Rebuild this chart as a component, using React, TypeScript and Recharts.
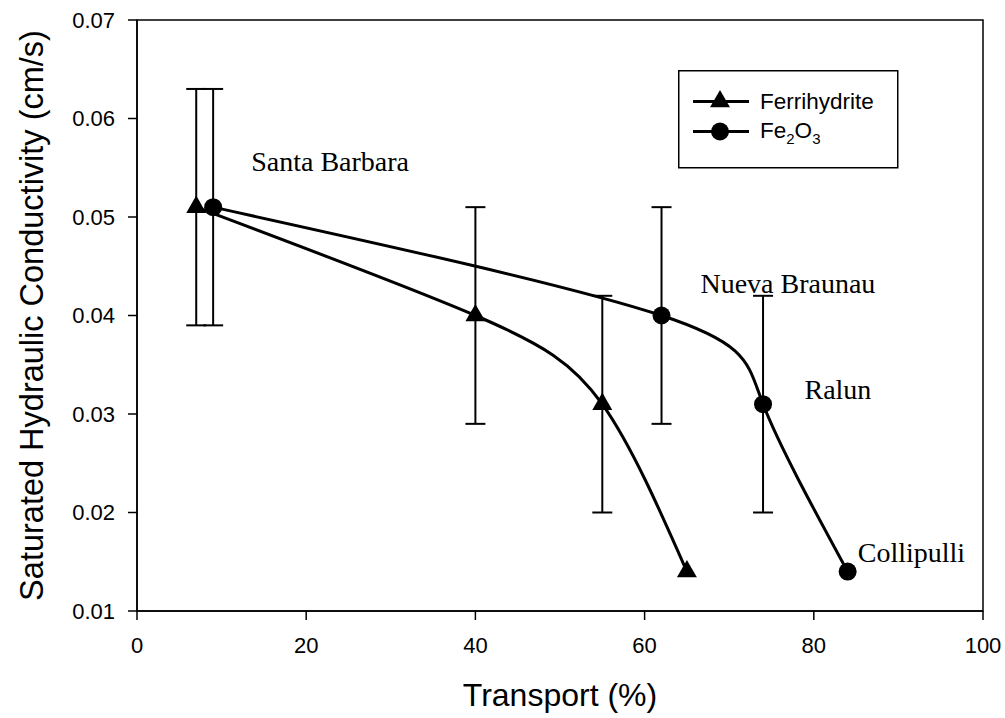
import React from 'react';
import {
  ComposedChart,
  Line,
  XAxis,
  YAxis,
  ErrorBar,
  ReferenceDot,
  ReferenceArea,
  Legend,
  Label,
  Symbols,
} from 'recharts';

// Ferrihydrite series
const transportFerrihydrite = [7, 40, 55, 65];
const conductivityFerrihydrite = [0.051, 0.04, 0.031, 0.014];
const errorFerrihydrite = [0.012, 0.011, 0.011, null];

// Fe2O3 series
const transportFe2O3 = [9, 62, 74, 84];
const conductivityFe2O3 = [0.051, 0.04, 0.031, 0.014];
const errorFe2O3 = [0.012, 0.011, 0.011, null];

// Axis ticks
const xTicks = [0, 20, 40, 60, 80, 100];
const yTicks = [0.01, 0.02, 0.03, 0.04, 0.05, 0.06, 0.07];

// Site annotations (left edge / vertical centre in data units)
const siteNames = ['Santa Barbara', 'Nueva Braunau', 'Ralun', 'Collipulli'];
const siteLabelX = [13.5, 66.6, 78.9, 85.2];
const siteLabelY = [0.0557, 0.0433, 0.0325, 0.016];

const SANS = 'Arial, "Liberation Sans", sans-serif';
const SERIF = '"Times New Roman", "Liberation Serif", serif';

const ferrihydriteData = transportFerrihydrite.map((x, i) => ({
  x,
  k: conductivityFerrihydrite[i],
  err: errorFerrihydrite[i],
}));

const fe2o3Data = transportFe2O3.map((x, i) => ({
  x,
  k: conductivityFe2O3[i],
  err: errorFe2O3[i],
}));

const TRIANGLE_SIZE = 173;

const triangleDot = (props: any) => {
  const { cx, cy, index } = props;
  if (cx == null || cy == null) return <g key={`t-${index}`} />;
  return (
    <Symbols
      key={`t-${index}`}
      cx={cx}
      cy={cy}
      type="triangle"
      size={TRIANGLE_SIZE}
      fill="#000"
      stroke="none"
    />
  );
};

const circleDot = (props: any) => {
  const { cx, cy, index } = props;
  if (cx == null || cy == null) return <g key={`c-${index}`} />;
  return <circle key={`c-${index}`} cx={cx} cy={cy} r={9} fill="#000" />;
};

const LegendBox = () => (
  <svg width={221} height={99} style={{ display: 'block' }}>
    <rect x={0.75} y={0.75} width={219} height={97} fill="#fff" stroke="#000" strokeWidth={1.5} />
    <line x1={15} x2={71} y1={31.5} y2={31.5} stroke="#000" strokeWidth={3} />
    <Symbols cx={42} cy={31.5} type="triangle" size={TRIANGLE_SIZE} fill="#000" />
    <text x={82} y={38.5} fontFamily={SANS} fontSize={22.5} fill="#000">
      Ferrihydrite
    </text>
    <line x1={15} x2={71} y1={61.5} y2={61.5} stroke="#000" strokeWidth={3} />
    <circle cx={42} cy={61.5} r={9} fill="#000" />
    <text x={82} y={67.5} fontFamily={SANS} fontSize={22.5} fill="#000">
      Fe
      <tspan fontSize={15} dy={6}>2</tspan>
      <tspan dy={-6}>O</tspan>
      <tspan fontSize={15} dy={6}>3</tspan>
    </text>
  </svg>
);

const XTitle = (props: any) => {
  const { viewBox } = props;
  const cx = viewBox.x + viewBox.width / 2;
  return (
    <text x={cx} y={viewBox.y + 95} textAnchor="middle" fontFamily={SANS} fontSize={32} fill="#000">
      Transport (%)
    </text>
  );
};

const YTitle = (props: any) => {
  const { viewBox } = props;
  const cy = viewBox.y + viewBox.height / 2;
  const x = 43;
  return (
    <text
      x={x}
      y={cy}
      textAnchor="middle"
      fontFamily={SANS}
      fontSize={32.5}
      fill="#000"
      transform={`rotate(-90, ${x}, ${cy})`}
    >
      Saturated Hydraulic Conductivity (cm/s)
    </text>
  );
};

export default function App() {
  return (
    <div style={{ position: 'absolute', left: 0, top: 0, background: '#fff' }}>
      <ComposedChart
        width={1005}
        height={718}
        margin={{ top: 20, right: 22, bottom: 0, left: 0 }}
      >
        <XAxis
          dataKey="x"
          type="number"
          domain={[0, 100]}
          ticks={xTicks}
          height={107}
          tickSize={9}
          tickMargin={17}
          axisLine={{ stroke: '#000', strokeWidth: 1.5 }}
          tickLine={{ stroke: '#000', strokeWidth: 1.5 }}
          tick={{ fill: '#000', fontSize: 22, fontFamily: SANS }}
          allowDuplicatedCategory={false}
        >
          <Label content={<XTitle />} />
        </XAxis>
        <YAxis
          type="number"
          domain={[0.01, 0.07]}
          ticks={yTicks}
          width={137}
          tickSize={9}
          tickMargin={13}
          tickFormatter={(v: number) => v.toFixed(2)}
          axisLine={{ stroke: '#000', strokeWidth: 1.5 }}
          tickLine={{ stroke: '#000', strokeWidth: 1.5 }}
          tick={{ fill: '#000', fontSize: 22, fontFamily: SANS }}
          allowDataOverflow
        >
          <Label content={<YTitle />} />
        </YAxis>

        <ReferenceArea
          x1={0}
          x2={100}
          y1={0.01}
          y2={0.07}
          fill="none"
          fillOpacity={0}
          stroke="#000"
          strokeWidth={1.5}
        />

        <Line
          data={ferrihydriteData}
          dataKey="k"
          name="Ferrihydrite"
          type="natural"
          stroke="#000"
          strokeWidth={3}
          dot={triangleDot}
          activeDot={false}
          isAnimationActive={false}
        >
          <ErrorBar dataKey="err" direction="y" width={10} stroke="#000" strokeWidth={2} isAnimationActive={false} />
        </Line>
        <Line
          data={fe2o3Data}
          dataKey="k"
          name="Fe2O3"
          type="natural"
          stroke="#000"
          strokeWidth={3}
          dot={circleDot}
          activeDot={false}
          isAnimationActive={false}
        >
          <ErrorBar dataKey="err" direction="y" width={10} stroke="#000" strokeWidth={2} isAnimationActive={false} />
        </Line>

        {siteNames.map((name, i) => (
          <ReferenceDot
            key={name}
            x={siteLabelX[i]}
            y={siteLabelY[i]}
            r={0}
            fill="none"
            stroke="none"
            label={{
              value: name,
              position: 'right',
              offset: 0,
              fill: '#000',
              fontSize: 28,
              fontFamily: SERIF,
            }}
          />
        ))}

        <Legend
          layout="vertical"
          align="center"
          verticalAlign="middle"
          wrapperStyle={{ left: 678, top: 70, width: 221, height: 99 }}
          content={<LegendBox />}
        />
      </ComposedChart>
    </div>
  );
}
